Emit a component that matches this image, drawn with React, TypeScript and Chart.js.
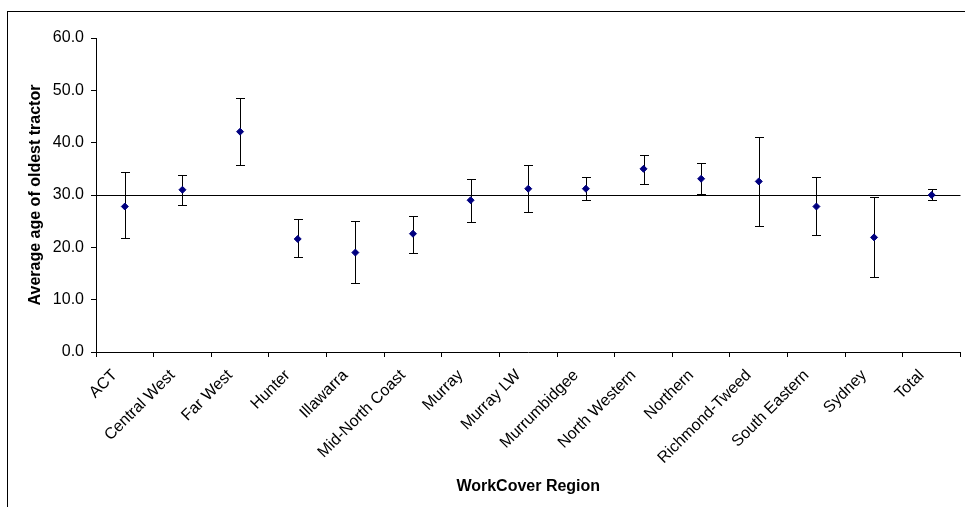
import React, { useEffect, useRef } from "react";
import { Chart, registerables } from "chart.js";

Chart.register(...registerables);

// WorkCover regions and the average age (years) of the oldest tractor, with 95% interval bounds
const regions = [
  "ACT",
  "Central West",
  "Far West",
  "Hunter",
  "Illawarra",
  "Mid-North Coast",
  "Murray",
  "Murray LW",
  "Murrumbidgee",
  "North Western",
  "Northern",
  "Richmond-Tweed",
  "South Eastern",
  "Sydney",
  "Total",
];
const meanAge = [27.8, 31.0, 42.1, 21.6, 19.0, 22.6, 29.0, 31.2, 31.2, 35.0, 33.1, 32.6, 27.8, 21.9, 30.0];
const upperAge = [34.3, 33.9, 48.5, 25.4, 25.0, 26.0, 33.1, 35.7, 33.4, 37.6, 36.2, 41.0, 33.4, 29.6, 31.2];
const lowerAge = [21.7, 28.1, 35.7, 18.1, 13.1, 19.0, 24.8, 26.7, 29.0, 32.1, 30.2, 24.0, 22.4, 14.3, 29.0];
const yTicks = [0, 10, 20, 30, 40, 50, 60];
const referenceAge = 30;

const FONT = "'Liberation Sans', Arial, Helvetica, sans-serif";

// outer frame around the whole chart
const framePlugin = {
  id: "frame",
  beforeDraw(chart: any) {
    const { ctx } = chart;
    ctx.save();
    ctx.strokeStyle = "#000";
    ctx.lineWidth = 1;
    ctx.strokeRect(7.5, 11.5, 2000, 2000);
    ctx.restore();
  },
};

// vertical interval bars with caps, drawn beneath the markers
const errorBarPlugin = {
  id: "errorBars",
  beforeDatasetsDraw(chart: any) {
    const { ctx, scales } = chart;
    const x = scales.x;
    const y = scales.y;
    ctx.save();
    ctx.strokeStyle = "#000";
    ctx.lineWidth = 1;
    const cap = 4.5;
    regions.forEach((_, i) => {
      const px = Math.round(x.getPixelForValue(i)) + 0.5;
      const top = Math.round(y.getPixelForValue(upperAge[i])) + 0.5;
      const bot = Math.round(y.getPixelForValue(lowerAge[i])) + 0.5;
      ctx.beginPath();
      ctx.moveTo(px, top);
      ctx.lineTo(px, bot);
      ctx.moveTo(px - cap, top);
      ctx.lineTo(px + cap, top);
      ctx.moveTo(px - cap, bot);
      ctx.lineTo(px + cap, bot);
      ctx.stroke();
    });
    ctx.restore();
  },
};

export default function App() {
  const canvasRef = useRef<HTMLCanvasElement | null>(null);

  useEffect(() => {
    const canvas = canvasRef.current;
    if (!canvas) return;
    const chart = new Chart(canvas, {
      type: "line",
      data: {
        labels: regions,
        datasets: [
          {
            data: meanAge,
            showLine: false,
            pointStyle: "rectRot",
            pointRadius: 3.5,
            pointHoverRadius: 3.5,
            pointBackgroundColor: "#000080",
            pointBorderColor: "#000080",
            pointBorderWidth: 1,
          },
        ],
      },
      options: {
        responsive: false,
        animation: false,
        events: [],
        layout: { padding: { top: 38, left: 0, right: 1, bottom: 0 } },
        plugins: {
          legend: { display: false },
          tooltip: { enabled: false },
        },
        scales: {
          x: {
            type: "category",
            offset: true,
            grid: {
              offset: true,
              color: "transparent",
              tickColor: "#000",
              tickLength: 5,
            },
            border: { display: true, color: "#000", width: 1 },
            ticks: {
              color: "#000",
              font: { family: FONT, size: 16 },
              minRotation: 45,
              maxRotation: 45,
              autoSkip: false,
              padding: 9,
              labelOffset: -10,
            },
            title: {
              display: true,
              text: "WorkCover Region",
              color: "#000",
              font: { family: FONT, size: 16, weight: "bold" },
              padding: { top: 0, bottom: 11 },
            },
            afterFit(scale: any) {
              scale.height = 155;
            },
          },
          y: {
            min: 0,
            max: 60,
            grid: {
              color: (c: any) => (c.tick && c.tick.value === referenceAge ? "#000" : "transparent"),
              tickColor: "#000",
              tickLength: 5,
              lineWidth: 1,
            },
            border: { display: true, color: "#000", width: 1 },
            afterBuildTicks(scale: any) {
              scale.ticks = yTicks.map((v) => ({ value: v }));
            },
            ticks: {
              color: "#000",
              font: { family: FONT, size: 16 },
              padding: 7,
              callback: (v: any) => Number(v).toFixed(1),
            },
            title: {
              display: true,
              text: "Average age of oldest tractor",
              color: "#000",
              font: { family: FONT, size: 16, weight: "bold" },
              padding: { top: 26, bottom: 0 },
            },
            afterFit(scale: any) {
              scale.width = 96;
            },
          },
        },
      },
      plugins: [framePlugin, errorBarPlugin],
    });
    return () => chart.destroy();
  }, []);

  return (
    <div style={{ position: "absolute", left: 0, top: 0, width: 965, height: 507, background: "#fff" }}>
      <canvas ref={canvasRef} width={965} height={507} style={{ display: "block", width: 965, height: 507 }} />
    </div>
  );
}
